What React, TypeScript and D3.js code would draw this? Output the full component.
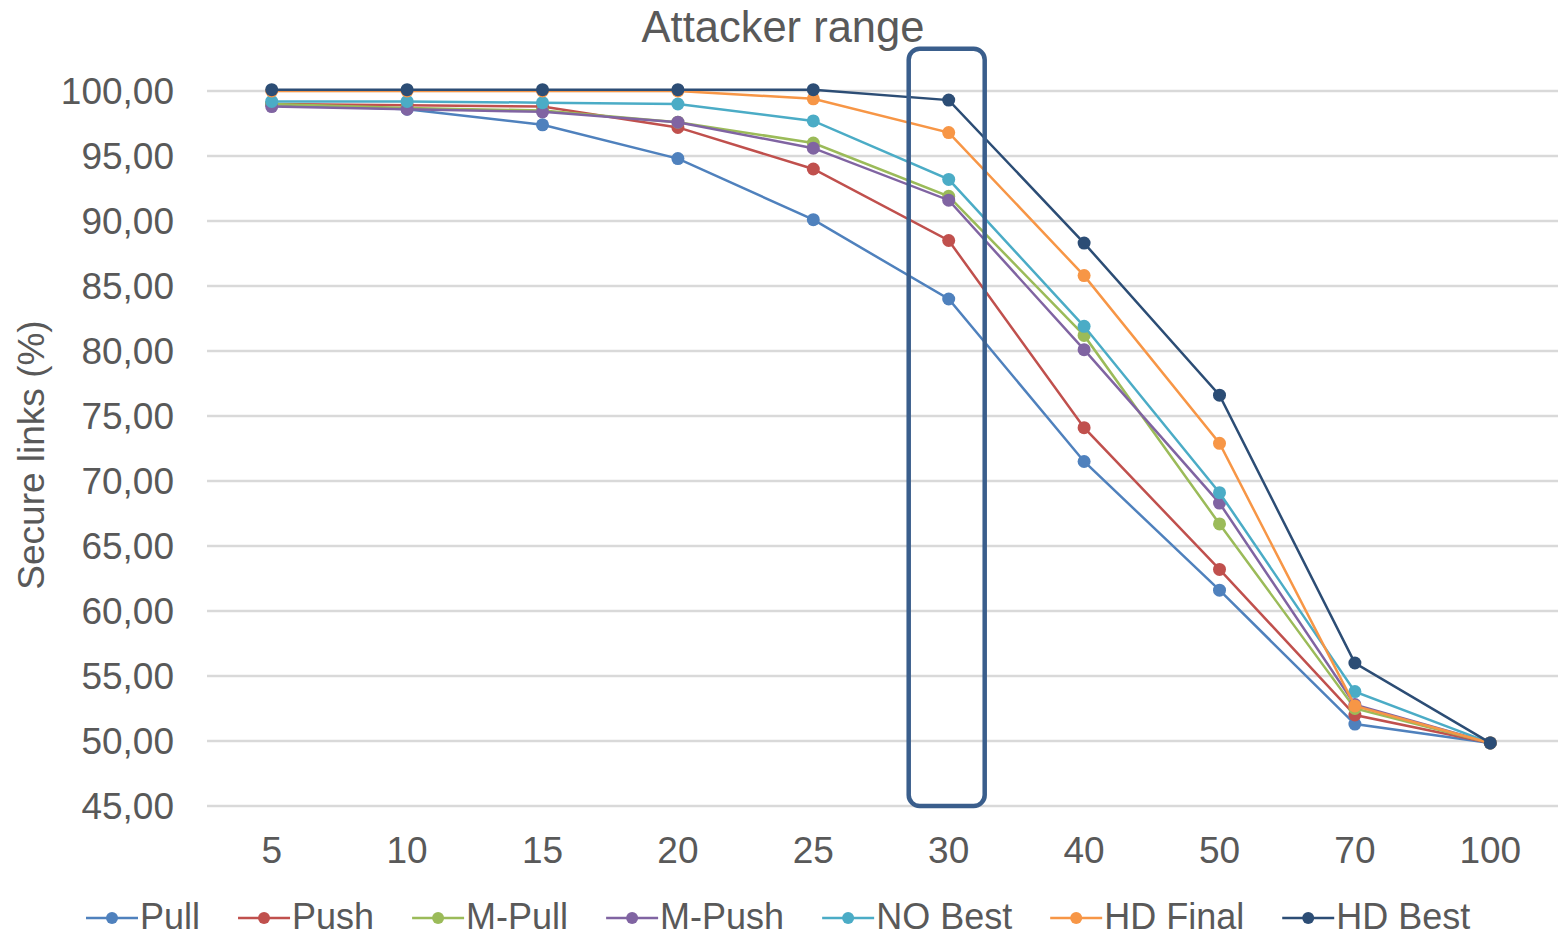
// @ts-nocheck
import * as d3 from "d3";
import { useRef, useEffect } from "react";

const ranges = ["5", "10", "15", "20", "25", "30", "40", "50", "70", "100"];

const pull = [99.0, 98.6, 97.4, 94.8, 90.1, 84.0, 71.5, 61.6, 51.3, 49.85];
const push = [99.0, 98.9, 98.8, 97.2, 94.0, 88.5, 74.1, 63.2, 52.0, 49.85];
const mPull = [99.0, 98.7, 98.5, 97.6, 96.0, 91.9, 81.2, 66.7, 52.5, 49.85];
const mPush = [98.8, 98.6, 98.4, 97.6, 95.6, 91.6, 80.1, 68.3, 52.8, 49.85];
const noBest = [99.2, 99.2, 99.1, 99.0, 97.7, 93.2, 81.9, 69.1, 53.8, 49.85];
const hdFinal = [100.0, 100.0, 100.0, 100.0, 99.4, 96.8, 85.8, 72.9, 52.7, 49.85];
const hdBest = [100.1, 100.1, 100.1, 100.1, 100.1, 99.3, 88.3, 76.6, 56.0, 49.85];

const seriesNames = ["Pull", "Push", "M-Pull", "M-Push", "NO Best", "HD Final", "HD Best"];
const seriesValues = [pull, push, mPull, mPush, noBest, hdFinal, hdBest];
const colors = ["#4f81bd", "#c0504d", "#9bbb59", "#8064a2", "#4bacc6", "#f79646", "#2c4d75"];

const yTicks = d3.range(45, 100.1, 5);
const highlighted = "30";

export default function App() {
  const ref = useRef();

  useEffect(() => {
    const width = 1559;
    const height = 938;
    const font = "'Liberation Sans', Arial, sans-serif";
    const textColor = "#595959";

    const svg = d3.select(ref.current).attr("width", width).attr("height", height);
    svg.selectAll("*").remove();

    const x = d3.scaleBand().domain(ranges).range([204, 1558]).padding(0);
    const cx = (c) => x(c) + x.bandwidth() / 2;
    const y = d3.scaleLinear().domain([45, 100]).range([806, 91]);

    // grid
    svg
      .append("g")
      .selectAll("line")
      .data(yTicks)
      .enter()
      .append("line")
      .attr("x1", 207)
      .attr("x2", 1558)
      .attr("y1", (d) => y(d))
      .attr("y2", (d) => y(d))
      .attr("stroke", "#d9d9d9")
      .attr("stroke-width", 2.5);

    // y tick labels
    svg
      .append("g")
      .selectAll("text")
      .data(yTicks)
      .enter()
      .append("text")
      .attr("x", 174)
      .attr("y", (d) => y(d) + 13)
      .attr("text-anchor", "end")
      .attr("font-family", font)
      .attr("font-size", 37)
      .attr("fill", textColor)
      .text((d) => d3.format(".2f")(d).replace(".", ","));

    // x tick labels
    svg
      .append("g")
      .selectAll("text")
      .data(ranges)
      .enter()
      .append("text")
      .attr("x", (d) => cx(d))
      .attr("y", 863)
      .attr("text-anchor", "middle")
      .attr("font-family", font)
      .attr("font-size", 37)
      .attr("fill", textColor)
      .text((d) => d);

    // title
    svg
      .append("text")
      .attr("x", 783)
      .attr("y", 42)
      .attr("text-anchor", "middle")
      .attr("font-family", font)
      .attr("font-size", 43.5)
      .attr("fill", textColor)
      .text("Attacker range");

    // y axis title
    svg
      .append("text")
      .attr("transform", "translate(44," + y(72) + ") rotate(-90)")
      .attr("text-anchor", "middle")
      .attr("font-family", font)
      .attr("font-size", 37)
      .attr("fill", textColor)
      .text("Secure links (%)");

    // series
    const line = d3
      .line()
      .x((d, i) => cx(ranges[i]))
      .y((d) => y(d));

    seriesValues.forEach((vals, s) => {
      const g = svg.append("g");
      g.append("path")
        .attr("d", line(vals))
        .attr("fill", "none")
        .attr("stroke", colors[s])
        .attr("stroke-width", 2.5);
      g.selectAll("circle")
        .data(vals)
        .enter()
        .append("circle")
        .attr("cx", (d, i) => cx(ranges[i]))
        .attr("cy", (d) => y(d))
        .attr("r", 6.5)
        .attr("fill", colors[s]);
    });

    // highlight box around range 30
    svg
      .append("rect")
      .attr("x", cx(highlighted) - 40)
      .attr("y", y(103.25))
      .attr("width", 76)
      .attr("height", y(45) - y(103.25))
      .attr("rx", 11)
      .attr("fill", "none")
      .attr("stroke", "#3a5e8c")
      .attr("stroke-width", 4.5);

    // legend
    const legend = svg.append("g");
    let pos = 86;
    seriesNames.forEach((name, s) => {
      const item = legend.append("g").attr("transform", "translate(" + pos + ",918)");
      item
        .append("line")
        .attr("x1", 0)
        .attr("x2", 52)
        .attr("stroke", colors[s])
        .attr("stroke-width", 2.5);
      item.append("circle").attr("cx", 26).attr("r", 6).attr("fill", colors[s]);
      const t = item
        .append("text")
        .attr("x", 54)
        .attr("y", 11)
        .attr("font-family", font)
        .attr("font-size", 36)
        .attr("fill", textColor)
        .text(name);
      pos += 54 + t.node().getComputedTextLength() + 38;
    });
  }, []);

  return (
    <div style={{ position: "absolute", left: 0, top: 0 }}>
      <svg ref={ref} style={{ display: "block" }}></svg>
    </div>
  );
}
